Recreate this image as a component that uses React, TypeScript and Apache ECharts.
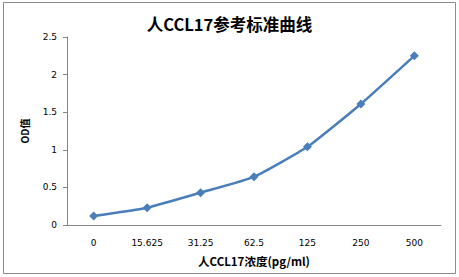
import React, { useEffect, useRef } from "react";
import * as echarts from "echarts";

const categories = ["0", "15.625", "31.25", "62.5", "125", "250", "500"];
const odValues = [0.12, 0.23, 0.43, 0.64, 1.04, 1.61, 2.25];
const titleText = "人CCL17参考标准曲线";
const xName = "人CCL17浓度(pg/ml)";
const yName = "OD值";

export default function App() {
  const ref = useRef<HTMLDivElement>(null);
  useEffect(() => {
    document.body.style.margin = "0";
    const chart = echarts.init(ref.current!, null, { renderer: "svg" });
    chart.setOption({
      animation: false,
      backgroundColor: "#ffffff",
      title: {
        text: titleText,
        left: "center",
        top: 11,
        textStyle: { fontFamily: "Noto Sans CJK SC", fontSize: 16.5, fontWeight: "bold", color: "#000" },
      },
      graphic: [
        {
          type: "rect",
          shape: { x: 3.5, y: 2.5, width: 452, height: 271 },
          style: { fill: "none", stroke: "#8c8c8c", lineWidth: 1 },
        },
      ],
      grid: { left: 67, top: 37, right: 18, bottom: 52 },
      xAxis: {
        type: "category",
        data: categories,
        boundaryGap: true,
        name: xName,
        nameLocation: "middle",
        nameGap: 30,
        nameTextStyle: { fontFamily: "Noto Sans CJK SC", fontSize: 11.5, fontWeight: "bold", color: "#000" },
        axisLine: { lineStyle: { color: "#868686" } },
        axisTick: { show: false },
        axisLabel: { fontFamily: "DejaVu Sans", fontSize: 9, color: "#000", margin: 13 },
      },
      yAxis: {
        type: "value",
        min: 0,
        max: 2.5,
        interval: 0.5,
        name: yName,
        nameLocation: "middle",
        nameGap: 38,
        nameRotate: 90,
        nameTextStyle: { fontFamily: "Noto Sans CJK SC", fontSize: 10, fontWeight: "bold", color: "#000" },
        axisLine: { show: true, lineStyle: { color: "#868686" } },
        axisTick: { show: true, length: 4, lineStyle: { color: "#868686" } },
        splitLine: { show: false },
        axisLabel: { fontFamily: "DejaVu Sans", fontSize: 9, color: "#000", margin: 10 },
      },
      series: [
        {
          type: "line",
          data: odValues,
          smooth: 0.15,
          symbol: "diamond",
          symbolSize: 9,
          lineStyle: { color: "#4a7ebb", width: 2.5 },
          itemStyle: { color: "#4a7ebb" },
        },
      ],
    });
    return () => chart.dispose();
  }, []);
  return <div ref={ref} style={{ width: 459, height: 277 }} />;
}
